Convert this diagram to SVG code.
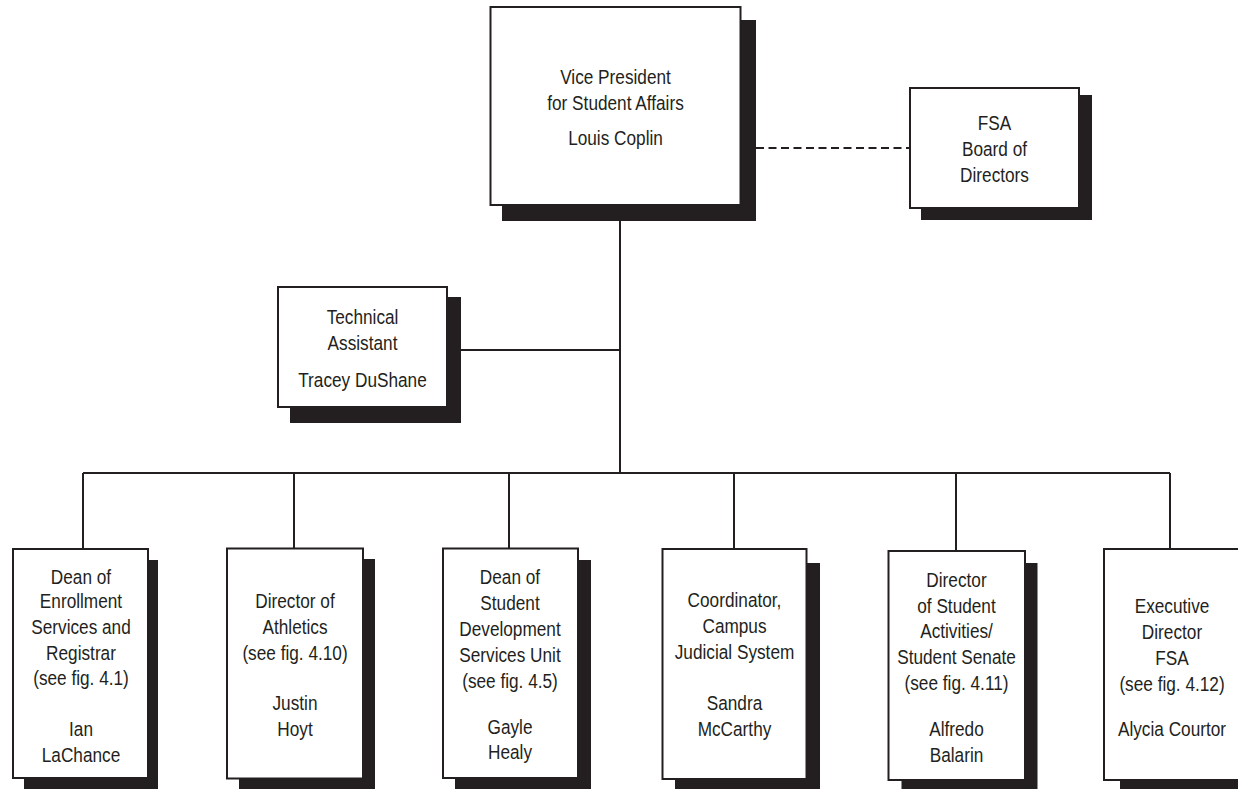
<svg xmlns="http://www.w3.org/2000/svg" width="1238" height="789" viewBox="0 0 1238 789">
<style>
.box{fill:#ffffff;stroke:#231f20;stroke-width:2}
.sh{fill:#231f20}
.ln{stroke:#231f20;stroke-width:2;fill:none}
.dash{stroke-dasharray:8 4.5}
text{font-family:'Liberation Sans',Arial,sans-serif;font-size:20.5px;fill:#231f20;text-anchor:middle}
</style>
<rect width="1238" height="789" fill="#ffffff"/>
<g id="connectors">
<path class="ln" d="M620 205 V473"/>
<path class="ln" d="M461 350 H620"/>
<path class="ln" d="M83 473 H1170"/>
<path class="ln" d="M83 473 V549 M294 473 V549 M509 473 V549 M734 473 V549 M956 473 V551 M1170 473 V549"/>
<path class="ln dash" d="M756 148 H910"/>
</g>
<g id="vp">
<rect class="sh" x="502" y="20" width="254" height="201"/>
<rect class="box" x="490.5" y="7" width="250" height="198"/>
<g transform="translate(615.5 0) scale(0.84 1)">
<text x="0" y="84.5">Vice President</text>
<text x="0" y="110.5">for Student Affairs</text>
<text x="0" y="145.5">Louis Coplin</text>
</g>
</g>
<g id="fsa-board">
<rect class="sh" x="921" y="95" width="171" height="125"/>
<rect class="box" x="910" y="88" width="169" height="120"/>
<g transform="translate(994.5 0) scale(0.84 1)">
<text x="0" y="130.5">FSA</text>
<text x="0" y="156.5">Board of</text>
<text x="0" y="182">Directors</text>
</g>
</g>
<g id="tech-assistant">
<rect class="sh" x="290" y="297" width="171" height="126"/>
<rect class="box" x="278" y="287" width="169" height="120"/>
<g transform="translate(362.5 0) scale(0.84 1)">
<text x="0" y="324">Technical</text>
<text x="0" y="350">Assistant</text>
<text x="0" y="387">Tracey DuShane</text>
</g>
</g>
<g id="enrollment">
<rect class="sh" x="24" y="560" width="134" height="235"/>
<rect class="box" x="13" y="549" width="135" height="229"/>
<g transform="translate(81 0) scale(0.84 1)">
<text x="0" y="584">Dean of</text>
<text x="0" y="608">Enrollment</text>
<text x="0" y="634">Services and</text>
<text x="0" y="660">Registrar</text>
<text x="0" y="685">(see fig. 4.1)</text>
<text x="0" y="736">Ian</text>
<text x="0" y="762">LaChance</text>
</g>
</g>
<g id="athletics">
<rect class="sh" x="239" y="559" width="136" height="236"/>
<rect class="box" x="227" y="548.5" width="136" height="230"/>
<g transform="translate(295 0) scale(0.84 1)">
<text x="0" y="608">Director of</text>
<text x="0" y="634">Athletics</text>
<text x="0" y="660">(see fig. 4.10)</text>
<text x="0" y="710">Justin</text>
<text x="0" y="736">Hoyt</text>
</g>
</g>
<g id="student-development">
<rect class="sh" x="455" y="560" width="136" height="235"/>
<rect class="box" x="443" y="548.5" width="135" height="229.5"/>
<g transform="translate(510 0) scale(0.84 1)">
<text x="0" y="584">Dean of</text>
<text x="0" y="610.5">Student</text>
<text x="0" y="636.5">Development</text>
<text x="0" y="662">Services Unit</text>
<text x="0" y="688">(see fig. 4.5)</text>
<text x="0" y="734">Gayle</text>
<text x="0" y="759.5">Healy</text>
</g>
</g>
<g id="judicial">
<rect class="sh" x="675" y="563" width="145" height="232"/>
<rect class="box" x="662.5" y="549" width="144" height="230"/>
<g transform="translate(734.5 0) scale(0.84 1)">
<text x="0" y="607.5">Coordinator,</text>
<text x="0" y="633.5">Campus</text>
<text x="0" y="659.5">Judicial System</text>
<text x="0" y="710.5">Sandra</text>
<text x="0" y="736.5">McCarthy</text>
</g>
</g>
<g id="student-activities">
<rect class="sh" x="901.5" y="563" width="136" height="232"/>
<rect class="box" x="888.5" y="551" width="136.5" height="229"/>
<g transform="translate(956.5 0) scale(0.84 1)">
<text x="0" y="587">Director</text>
<text x="0" y="613">of Student</text>
<text x="0" y="638.5">Activities/</text>
<text x="0" y="664.5">Student Senate</text>
<text x="0" y="690">(see fig. 4.11)</text>
<text x="0" y="736">Alfredo</text>
<text x="0" y="762">Balarin</text>
</g>
</g>
<g id="fsa-director">
<rect class="sh" x="1120" y="561" width="140" height="240"/>
<rect class="box" x="1104" y="549" width="140" height="231"/>
<g transform="translate(1172 0) scale(0.84 1)">
<text x="0" y="613.5">Executive</text>
<text x="0" y="639.5">Director</text>
<text x="0" y="665">FSA</text>
<text x="0" y="691">(see fig. 4.12)</text>
<text x="0" y="736">Alycia Courtor</text>
</g>
</g>
</svg>
